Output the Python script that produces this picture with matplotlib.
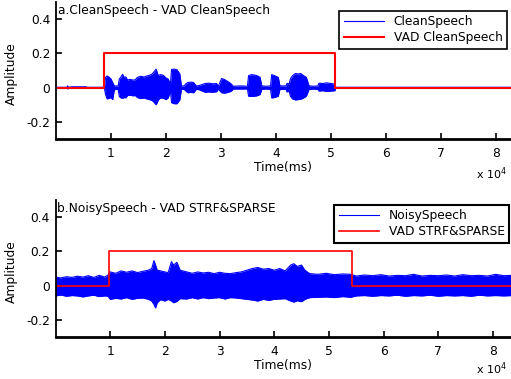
import matplotlib
matplotlib.use("Agg")
import matplotlib.pyplot as plt

plt.rcParams['font.family'] = ['DejaVu Sans']

# ---------------- data (time in units of 10^4 samples) ----------------
# Panel a: clean speech envelope (upper / lower amplitude)
clean_t = [0.00, 0.20, 0.21, 0.23, 0.29, 0.55, 0.56, 0.88, 0.90, 0.93, 0.97, 1.00,
           1.03, 1.06, 1.13, 1.15, 1.18, 1.21, 1.24, 1.27, 1.30, 1.35, 1.40, 1.44,
           1.48, 1.54, 1.60, 1.65, 1.70, 1.75, 1.78, 1.82, 1.86, 1.90, 1.95, 2.00,
           2.04, 2.08, 2.10, 2.15, 2.20, 2.25, 2.28, 2.33, 2.36, 2.40, 2.45, 2.50,
           2.55, 2.60, 2.71, 2.78, 2.85, 2.92, 2.95, 3.01, 3.06, 3.10, 3.15, 3.19,
           3.22, 3.35, 3.48, 3.50, 3.55, 3.60, 3.65, 3.71, 3.74, 3.82, 3.90, 3.92,
           3.97, 4.04, 4.07, 4.18, 4.20, 4.24, 4.26, 4.30, 4.35, 4.40, 4.45, 4.50,
           4.55, 4.60, 4.68, 4.76, 4.78, 4.85, 4.92, 5.00, 5.07, 5.08, 8.30]
clean_up = [0.002, 0.002, 0.010, 0.002, 0.005, 0.005, 0.002, 0.002, 0.060, 0.068, 0.060, 0.050,
            0.030, 0.010, 0.010, 0.050, 0.062, 0.078, 0.060, 0.062, 0.045, 0.048, 0.044, 0.046,
            0.060, 0.066, 0.062, 0.068, 0.072, 0.080, 0.092, 0.108, 0.070, 0.076, 0.072, 0.056,
            0.050, 0.020, 0.106, 0.108, 0.104, 0.080, 0.010, 0.010, 0.022, 0.030, 0.032, 0.030,
            0.010, 0.012, 0.024, 0.026, 0.022, 0.024, 0.008, 0.053, 0.048, 0.040, 0.030, 0.020,
            0.008, 0.010, 0.008, 0.070, 0.076, 0.074, 0.070, 0.060, 0.010, 0.008, 0.010, 0.076,
            0.070, 0.060, 0.010, 0.010, 0.025, 0.022, 0.050, 0.070, 0.082, 0.080, 0.082, 0.070,
            0.060, 0.010, 0.008, 0.010, 0.026, 0.024, 0.028, 0.024, 0.020, 0.002, 0.002]
clean_lo = [-0.002, -0.002, -0.008, -0.002, -0.004, -0.004, -0.002, -0.002, -0.040, -0.066, -0.062, -0.058,
            -0.070, -0.012, -0.010, -0.052, -0.060, -0.062, -0.058, -0.060, -0.046, -0.044, -0.048, -0.046,
            -0.058, -0.064, -0.060, -0.066, -0.070, -0.076, -0.085, -0.100, -0.072, -0.060, -0.062, -0.070,
            -0.060, -0.020, -0.088, -0.094, -0.094, -0.072, -0.010, -0.010, -0.020, -0.030, -0.028, -0.030,
            -0.010, -0.012, -0.027, -0.025, -0.027, -0.024, -0.008, -0.030, -0.032, -0.030, -0.025, -0.020,
            -0.008, -0.008, -0.008, -0.050, -0.052, -0.050, -0.048, -0.040, -0.010, -0.008, -0.010, -0.060,
            -0.058, -0.050, -0.010, -0.010, -0.025, -0.022, -0.050, -0.066, -0.072, -0.070, -0.068, -0.060,
            -0.050, -0.010, -0.008, -0.010, -0.020, -0.018, -0.022, -0.020, -0.018, -0.002, -0.002]
vad_clean_t = [0.00, 0.88, 5.08, 8.30]
vad_clean_v = [0.0, 0.2, 0.0, 0.0]

# Panel b: noisy speech envelope
noisy_t = [0.00, 0.10, 0.20, 0.30, 0.40, 0.50, 0.60, 0.70, 0.80, 0.90, 0.96, 1.00,
           1.10, 1.20, 1.30, 1.40, 1.50, 1.60, 1.70, 1.76, 1.80, 1.83, 1.86, 1.92,
           2.00, 2.06, 2.12, 2.16, 2.22, 2.28, 2.40, 2.50, 2.60, 2.70, 2.80, 2.90,
           3.00, 3.10, 3.20, 3.30, 3.40, 3.50, 3.60, 3.70, 3.80, 3.90, 4.00, 4.10,
           4.20, 4.30, 4.36, 4.42, 4.50, 4.56, 4.65, 4.80, 4.95, 5.10, 5.25, 5.40,
           5.50, 5.65, 5.80, 5.95, 6.10, 6.25, 6.40, 6.55, 6.70, 6.85, 7.00, 7.15,
           7.30, 7.45, 7.60, 7.75, 7.90, 8.05, 8.20, 8.35]
noisy_up = [0.050, 0.045, 0.052, 0.048, 0.055, 0.050, 0.058, 0.048, 0.060, 0.050, 0.062, 0.080,
            0.072, 0.086, 0.078, 0.086, 0.076, 0.084, 0.090, 0.100, 0.146, 0.120, 0.090, 0.086,
            0.080, 0.076, 0.140, 0.120, 0.136, 0.090, 0.080, 0.072, 0.080, 0.074, 0.078, 0.070,
            0.078, 0.072, 0.070, 0.076, 0.080, 0.090, 0.100, 0.106, 0.096, 0.100, 0.090, 0.100,
            0.086, 0.120, 0.128, 0.112, 0.120, 0.090, 0.070, 0.066, 0.072, 0.064, 0.068, 0.066,
            0.056, 0.062, 0.058, 0.064, 0.056, 0.060, 0.058, 0.066, 0.056, 0.060, 0.058, 0.062,
            0.056, 0.064, 0.058, 0.060, 0.056, 0.066, 0.058, 0.060]
noisy_lo = [-0.060, -0.055, -0.062, -0.058, -0.060, -0.066, -0.060, -0.056, -0.064, -0.060, -0.062, -0.080,
            -0.074, -0.078, -0.070, -0.080, -0.074, -0.072, -0.080, -0.090, -0.110, -0.130, -0.100, -0.082,
            -0.090, -0.080, -0.090, -0.100, -0.092, -0.076, -0.078, -0.070, -0.078, -0.070, -0.076, -0.072,
            -0.070, -0.078, -0.070, -0.072, -0.076, -0.080, -0.084, -0.090, -0.080, -0.086, -0.080, -0.078,
            -0.076, -0.090, -0.096, -0.088, -0.094, -0.080, -0.070, -0.068, -0.066, -0.070, -0.064, -0.068,
            -0.060, -0.058, -0.062, -0.058, -0.060, -0.056, -0.062, -0.058, -0.060, -0.056, -0.062, -0.058,
            -0.060, -0.058, -0.062, -0.056, -0.060, -0.058, -0.060, -0.058]
vad_noisy_t = [0.00, 0.98, 5.42, 8.35]
vad_noisy_v = [0.0, 0.2, 0.0, 0.0]

yticks = [-0.2, 0, 0.2, 0.4]
ytick_labels = ['-0.2', '0', '0.2', '0.4']
xticks = [1, 2, 3, 4, 5, 6, 7, 8]
xtick_labels = ['1', '2', '3', '4', '5', '6', '7', '8']

# ---------------- figure ----------------
W, H = 511, 379
fig = plt.figure(figsize=(W / 100, H / 100), dpi=100)
ax1 = fig.add_axes([56 / W, 1 - 139 / H, 455 / W, 137 / H])
ax2 = fig.add_axes([55.5 / W, 1 - 337 / H, 455.5 / W, 137 / H])

FS = 8.8


def style(ax, xmax):
    ax.set_xlim(0, xmax)
    ax.set_ylim(-0.3, 0.5)
    ax.set_yticks(yticks)
    ax.set_yticklabels(ytick_labels)
    ax.set_xticks(xticks)
    ax.set_xticklabels(xtick_labels)
    ax.tick_params(direction='in', length=4, width=1.2, labelsize=FS)
    ax.tick_params(axis='y', pad=4)
    ax.tick_params(axis='x', pad=6)
    ax.spines['top'].set_visible(False)
    ax.spines['right'].set_visible(False)
    ax.spines['left'].set_linewidth(1.3)
    ax.spines['bottom'].set_linewidth(2.0)
    ax.set_xlabel('Time(ms)', fontsize=FS)
    ax.set_ylabel('Amplitude', fontsize=FS)
    ax.xaxis.set_label_coords(0.5, -0.16)
    ax.yaxis.set_label_coords(-0.083, 0.48)


blue = (0, 0, 1)
red = (1, 0, 0)

# panel a
ax1.fill_between(clean_t, clean_lo, clean_up, color=blue, lw=0)
ax1.plot(clean_t, clean_up, color=blue, lw=0.8, label='CleanSpeech')
ax1.plot(clean_t, clean_lo, color=blue, lw=0.8)
ax1.plot(vad_clean_t, vad_clean_v, color=red, lw=1.5, drawstyle='steps-post',
         label='VAD CleanSpeech')
style(ax1, 8.27)
ax1.text(0.004, 0.985, 'a.CleanSpeech - VAD CleanSpeech', transform=ax1.transAxes,
         va='top', ha='left', fontsize=FS)
ax1.legend(loc='upper right', bbox_to_anchor=(507 / W, 1 - 11 / H),
           bbox_transform=fig.transFigure, borderaxespad=0, fontsize=FS,
           fancybox=False, edgecolor='black', framealpha=1, handlelength=3.3,
           labelspacing=0.25, borderpad=0.35).get_frame().set_linewidth(1.2)

# panel b
ax2.fill_between(noisy_t, noisy_lo, noisy_up, color=blue, lw=0)
ax2.plot(noisy_t, noisy_up, color=blue, lw=0.8, label='NoisySpeech')
ax2.plot(noisy_t, noisy_lo, color=blue, lw=0.8)
ax2.plot(vad_noisy_t, vad_noisy_v, color=red, lw=1.2, drawstyle='steps-post',
         label='VAD STRF&SPARSE')
style(ax2, 8.33)
ax2.text(0.004, 0.985, 'b.NoisySpeech - VAD STRF&SPARSE', transform=ax2.transAxes,
         va='top', ha='left', fontsize=FS)
ax2.legend(loc='upper right', bbox_to_anchor=(509 / W, 1 - 205 / H),
           bbox_transform=fig.transFigure, borderaxespad=0, fontsize=FS,
           fancybox=False, edgecolor='black', framealpha=1, handlelength=3.3,
           labelspacing=0.25, borderpad=0.35).get_frame().set_linewidth(1.5)

fig.text(507 / W, 1 - 179 / H, r'x 10$^{4}$', fontsize=8, ha='right', va='baseline')
fig.text(507 / W, 1 - 374 / H, r'x 10$^{4}$', fontsize=8, ha='right', va='baseline')

fig.savefig('out.png', dpi=100)
